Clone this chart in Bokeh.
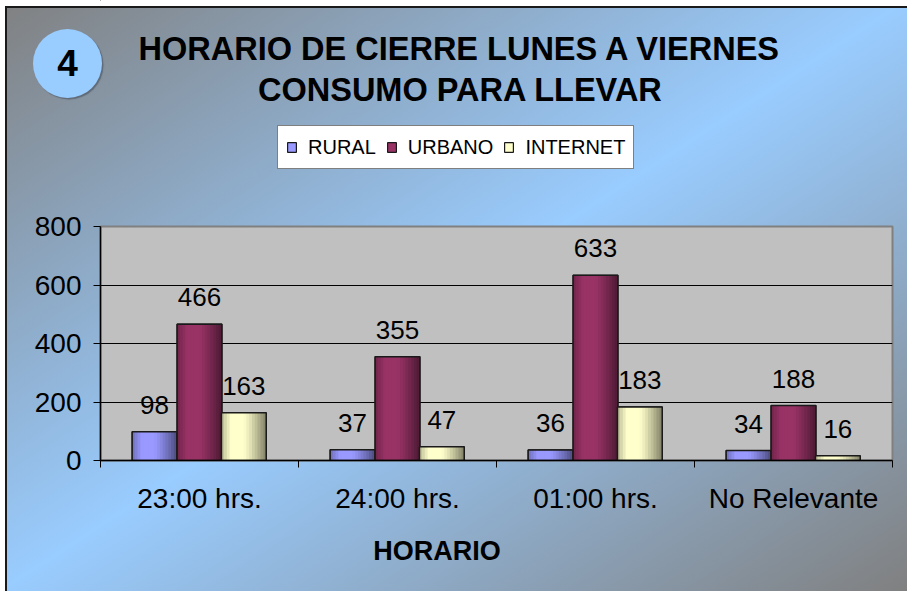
from bokeh.plotting import figure
from bokeh.layouts import column, row
from bokeh.models import (Range1d, FixedTicker, Legend, LegendItem, ColumnDataSource, Div)
from bokeh.transform import dodge
from bokeh.core.properties import value
from bokeh.embed import file_html
from bokeh.resources import INLINE

# ---------------- data ----------------
categories = ["23:00 hrs.", "24:00 hrs.", "01:00 hrs.", "No Relevante"]
series_names = ["RURAL", "URBANO", "INTERNET"]
rural = [98, 37, 36, 34]
urbano = [466, 355, 633, 188]
internet = [163, 47, 183, 16]
y_ticks = [0, 200, 400, 600, 800]
title_lines = ["HORARIO DE CIERRE LUNES A VIERNES", "CONSUMO PARA LLEVAR"]
badge = "4"
x_title = "HORARIO"

base_colors = ["#9999FF", "#993366", "#FFFFCC"]
offsets = [-0.227, 0.0, 0.224]
bar_w = 0.226
FONT = "Liberation Sans"
W, H = 907, 591
FL, FR = 100, 892          # frame left / right in page pixels
TOP_H, MID_H, BOT_H = 190, 330, 71
GRAD = "linear-gradient(to bottom right, #808080 0%, #99CCFF 50%, #808080 100%)"


def deco_fig(w, h, left):
    f = figure(width=w, height=h, x_range=Range1d(FL, FR), y_range=Range1d(h, 0),
               output_backend="svg", toolbar_location=None,
               x_axis_type=None, y_axis_type=None,
               min_border_left=left, min_border_right=W - FR,
               min_border_top=0, min_border_bottom=0)
    f.border_fill_color = None
    f.background_fill_color = None
    f.outline_line_color = None
    f.grid.visible = False
    return f


# ---------------- top: badge, title, legend ----------------
badge_div = Div(width=FL, height=TOP_H, margin=0, text=(
    '<div style="margin-left:33px;margin-top:29px;width:69px;height:69px;'
    'border-radius:50%;background:#99CCFF;box-shadow:1.5px 1.5px 1px rgba(70,80,95,0.6);'
    'display:flex;align-items:center;justify-content:center;'
    "font-family:'Liberation Sans';font-weight:bold;font-size:37px;color:black;"
    'line-height:1;">' + badge + '</div>'))

top = deco_fig(W - FL, TOP_H, 0)
top.text(x=[459.5, 460.0], y=[48.5, 89.5], text=title_lines, text_font=value(FONT),
         text_font_size="32.5px", text_font_style="bold", text_align="center",
         text_baseline="middle", text_color="black")

legend_items = []
for name, col in zip(series_names, base_colors):
    r = top.vbar(x=[-1000], top=[0], bottom=[0], width=1, fill_color=col,
                 line_color="#1a1a1a", line_width=1.2)
    legend_items.append(LegendItem(label=name, renderers=[r]))
legend = Legend(items=legend_items, orientation="horizontal",
                location=(277 - FL, TOP_H - 169),
                glyph_width=11, glyph_height=12, label_standoff=11, spacing=10,
                padding=8, margin=0, label_height=26,
                label_text_font=FONT, label_text_font_size="20px",
                label_text_color="black",
                border_line_color="black", border_line_width=1,
                background_fill_color="white", background_fill_alpha=1)
top.add_layout(legend)

# ---------------- middle: the bar chart ----------------
src = ColumnDataSource(dict(
    x=[i + 0.5 for i in range(len(categories))],
    rural=rural, urbano=urbano, internet=internet,
    rural_t=[str(v) for v in rural],
    urbano_t=[str(v) for v in urbano],
    internet_t=[str(v) for v in internet],
))
keys = ["rural", "urbano", "internet"]

p = figure(width=W, height=MID_H, x_range=Range1d(0, len(categories)),
           y_range=Range1d(y_ticks[0], y_ticks[-1]),
           output_backend="svg", toolbar_location=None,
           min_border_left=FL, min_border_right=W - FR,
           min_border_top=226 - TOP_H, min_border_bottom=60)
p.border_fill_color = None
p.background_fill_color = "#C0C0C0"
p.outline_line_color = "#808080"
p.outline_line_width = 2

p.xgrid.visible = False
p.ygrid.ticker = FixedTicker(ticks=y_ticks[:-1])
p.ygrid.grid_line_color = "black"
p.ygrid.grid_line_width = 1

p.yaxis.ticker = FixedTicker(ticks=y_ticks)
p.yaxis.major_tick_in = 0
p.yaxis.major_tick_out = 7
p.yaxis.minor_tick_line_color = None
p.yaxis.axis_line_color = "black"
p.yaxis.axis_line_width = 1.5
p.yaxis.major_label_text_font = FONT
p.yaxis.major_label_text_font_size = "28px"
p.yaxis.major_label_text_color = "black"
p.yaxis.major_label_standoff = 12

p.xaxis.ticker = FixedTicker(ticks=[i + 0.5 for i in range(len(categories))],
                             minor_ticks=list(range(len(categories) + 1)))
p.xaxis.major_label_overrides = {i + 0.5: c for i, c in enumerate(categories)}
p.xaxis.major_tick_line_color = None
p.xaxis.major_tick_in = 0
p.xaxis.major_tick_out = 7
p.xaxis.minor_tick_in = 0
p.xaxis.minor_tick_out = 7
p.xaxis.minor_tick_line_color = "black"
p.xaxis.axis_line_color = "black"
p.xaxis.axis_line_width = 1.5
p.xaxis.major_label_text_font = FONT
p.xaxis.major_label_text_font_size = "28px"
p.xaxis.major_label_text_color = "black"
p.xaxis.major_label_standoff = 15


def shade(hex_color, f):
    r = int(hex_color[1:3], 16)
    g = int(hex_color[3:5], 16)
    b = int(hex_color[5:7], 16)
    return "#%02x%02x%02x" % (int(r * f), int(g * f), int(b * f))


def profile(t):
    if t < 0.22:
        return 0.72 + 0.28 * (t / 0.22)
    if t < 0.5:
        return 1.0
    return 1.0 - 0.5 * ((t - 0.5) / 0.5) ** 1.2


N = 16
for key, col, off in zip(keys, base_colors, offsets):
    p.vbar(x=dodge("x", off, range=p.x_range), width=bar_w, top=key, bottom=0,
           source=src, fill_color=col, line_color="#1a1a1a", line_width=1.2)
    sw = bar_w / N
    for k in range(N):
        t = (k + 0.5) / N
        p.vbar(x=dodge("x", off - bar_w / 2 + (k + 0.5) * sw, range=p.x_range),
               width=sw * 1.2, top=key, bottom=0, source=src,
               fill_color=shade(col, profile(t)), line_color=None)
    p.vbar(x=dodge("x", off, range=p.x_range), width=bar_w, top=key, bottom=0,
           source=src, fill_color=None, line_color="#1a1a1a", line_width=1.5)
    p.text(x=dodge("x", off, range=p.x_range), y=key, text=key + "_t", source=src,
           text_font=value(FONT), text_font_size="26px", text_color="black",
           text_align="center", text_baseline="middle", y_offset=-27)

# ---------------- bottom: axis title ----------------
bot = deco_fig(W, BOT_H, FL)
bot.text(x=[436.5], y=[30.5], text=[x_title], text_font=value(FONT),
         text_font_size="27px", text_font_style="bold", text_align="center",
         text_baseline="middle", text_color="black")

layout = column(row(badge_div, top, spacing=0), p, bot, spacing=0, styles={
    "background-image": GRAD,
    "box-shadow": "inset 5px 6px 0 #ffffff, inset 7px 8px 0 #1a1a1a",
})

open("out.html", "w").write(file_html(layout, INLINE))
